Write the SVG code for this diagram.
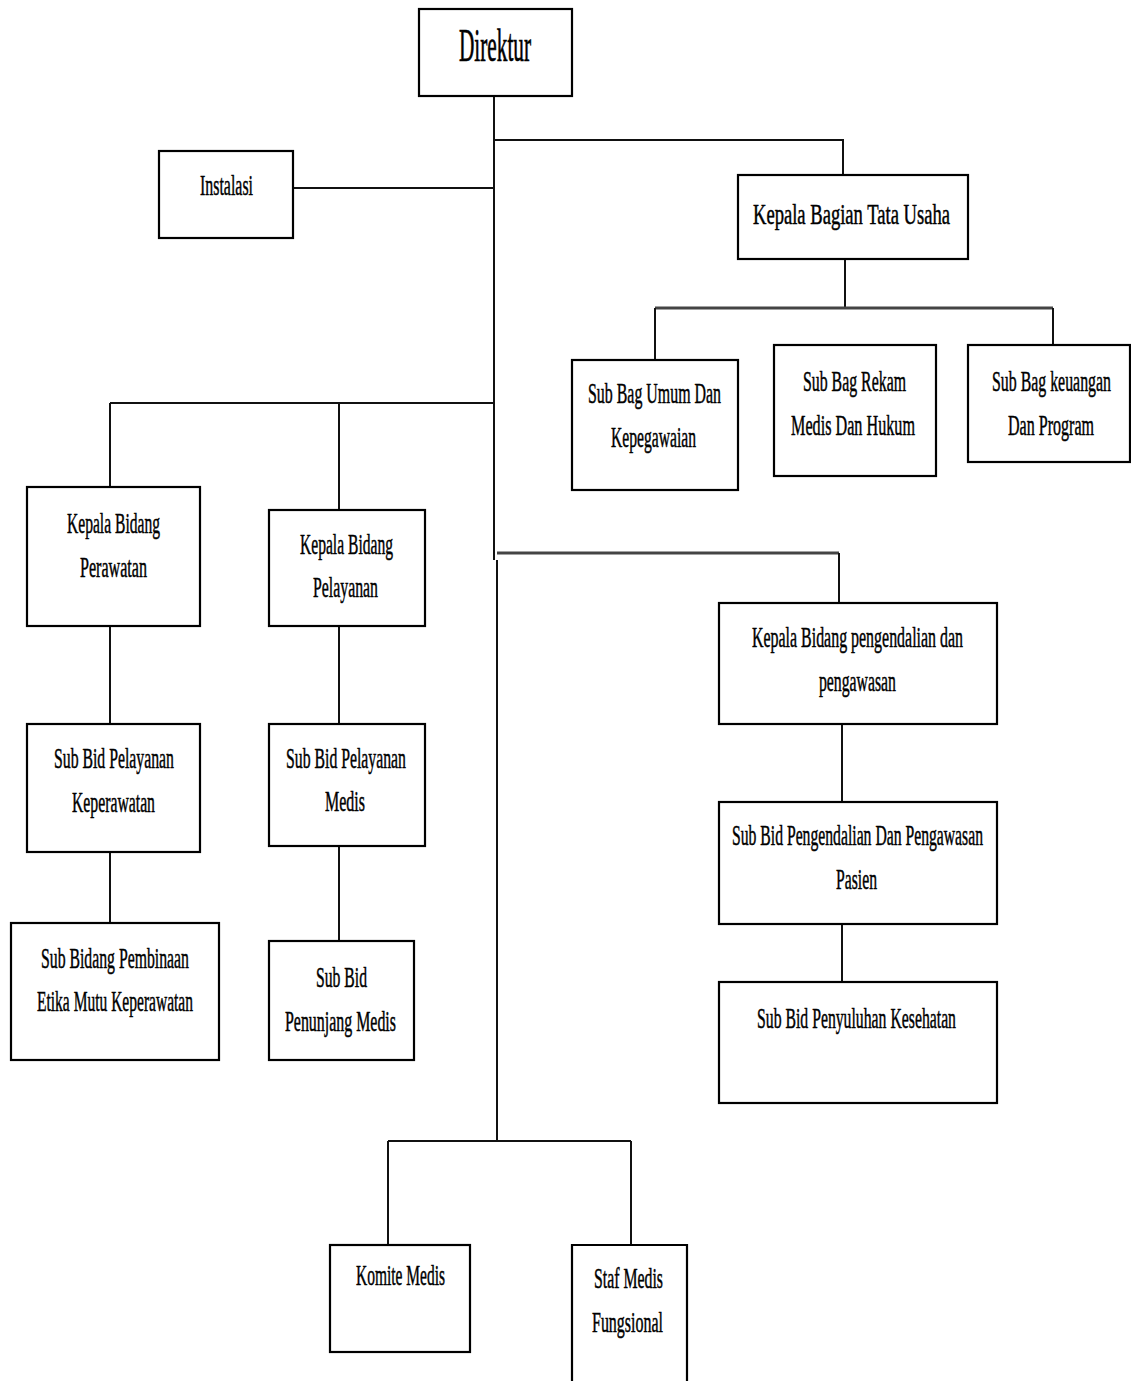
<svg xmlns="http://www.w3.org/2000/svg" width="1131" height="1381" viewBox="0 0 1131 1381">
<style>
.box{fill:#fff;stroke:#000;stroke-width:2.2}
.ln{fill:none;stroke:#111;stroke-width:2}
.gl{fill:none;stroke:#444;stroke-width:3}
text{font-family:"Liberation Serif","Times New Roman",serif;font-size:30px;fill:#000;stroke:#000;stroke-width:0.5}
.big{font-size:46px;stroke-width:0.7}
</style>
<rect width="1131" height="1381" fill="#fff"/>
<g id="connectors">
<path class="ln" d="M494 96V560"/>
<path class="ln" d="M497 560V1141"/>
<path class="ln" d="M494 140H843V175"/>
<path class="ln" d="M293 188H494"/>
<path class="ln" d="M845 259V308"/>
<path class="gl" d="M655 308H1053"/>
<path class="ln" d="M655 308V360M1053 308V345"/>
<path class="ln" d="M110 403H494M110 403V487M339 403V510"/>
<path class="gl" d="M497 553H839"/>
<path class="ln" d="M839 553V603"/>
<path class="ln" d="M110 626V724M110 852V923"/>
<path class="ln" d="M339 626V724M339 846V941"/>
<path class="ln" d="M842 724V802M842 924V982"/>
<path class="ln" d="M388 1141H631M388 1141V1245M631 1141V1245"/>
</g>
<g id="direktur"><rect class="box" x="419" y="9" width="153" height="87"/><text class="big" transform="scale(0.5 1)" x="918" y="61" textLength="144" lengthAdjust="spacingAndGlyphs">Direktur</text></g>
<g id="instalasi"><rect class="box" x="159" y="151" width="134" height="87"/><text transform="scale(0.5 1)" x="400" y="195" textLength="106" lengthAdjust="spacingAndGlyphs">Instalasi</text></g>
<g id="kabag-tu"><rect class="box" x="738" y="175" width="230" height="84"/><text transform="scale(0.5 1)" x="1506" y="224" textLength="394" lengthAdjust="spacingAndGlyphs">Kepala Bagian Tata Usaha</text></g>
<g id="subbag-umum"><rect class="box" x="572" y="360" width="166" height="130"/><text transform="scale(0.5 1)" x="1176" y="403" textLength="266" lengthAdjust="spacingAndGlyphs">Sub Bag Umum Dan</text><text transform="scale(0.5 1)" x="1222" y="447" textLength="170" lengthAdjust="spacingAndGlyphs">Kepegawaian</text></g>
<g id="subbag-rekam"><rect class="box" x="774" y="345" width="162" height="131"/><text transform="scale(0.5 1)" x="1606" y="391" textLength="206" lengthAdjust="spacingAndGlyphs">Sub Bag Rekam</text><text transform="scale(0.5 1)" x="1582" y="435" textLength="248" lengthAdjust="spacingAndGlyphs">Medis Dan Hukum</text></g>
<g id="subbag-keuangan"><rect class="box" x="968" y="345" width="162" height="117"/><text transform="scale(0.5 1)" x="1984" y="391" textLength="238" lengthAdjust="spacingAndGlyphs">Sub Bag keuangan</text><text transform="scale(0.5 1)" x="2016" y="435" textLength="172" lengthAdjust="spacingAndGlyphs">Dan Program</text></g>
<g id="kabid-perawatan"><rect class="box" x="27" y="487" width="173" height="139"/><text transform="scale(0.5 1)" x="134" y="533" textLength="186" lengthAdjust="spacingAndGlyphs">Kepala Bidang</text><text transform="scale(0.5 1)" x="160" y="577" textLength="134" lengthAdjust="spacingAndGlyphs">Perawatan</text></g>
<g id="kabid-pelayanan"><rect class="box" x="269" y="510" width="156" height="116"/><text transform="scale(0.5 1)" x="600" y="554" textLength="186" lengthAdjust="spacingAndGlyphs">Kepala Bidang</text><text transform="scale(0.5 1)" x="626" y="597" textLength="130" lengthAdjust="spacingAndGlyphs">Pelayanan</text></g>
<g id="subbid-pel-kep"><rect class="box" x="27" y="724" width="173" height="128"/><text transform="scale(0.5 1)" x="108" y="768" textLength="240" lengthAdjust="spacingAndGlyphs">Sub Bid Pelayanan</text><text transform="scale(0.5 1)" x="144" y="812" textLength="166" lengthAdjust="spacingAndGlyphs">Keperawatan</text></g>
<g id="subbid-pembinaan"><rect class="box" x="11" y="923" width="208" height="137"/><text transform="scale(0.5 1)" x="82" y="968" textLength="296" lengthAdjust="spacingAndGlyphs">Sub Bidang Pembinaan</text><text transform="scale(0.5 1)" x="74" y="1011" textLength="312" lengthAdjust="spacingAndGlyphs">Etika Mutu Keperawatan</text></g>
<g id="subbid-pel-medis"><rect class="box" x="269" y="724" width="156" height="122"/><text transform="scale(0.5 1)" x="572" y="768" textLength="240" lengthAdjust="spacingAndGlyphs">Sub Bid Pelayanan</text><text transform="scale(0.5 1)" x="650" y="811" textLength="80" lengthAdjust="spacingAndGlyphs">Medis</text></g>
<g id="subbid-penunjang"><rect class="box" x="269" y="941" width="145" height="119"/><text transform="scale(0.5 1)" x="632" y="987" textLength="102" lengthAdjust="spacingAndGlyphs">Sub Bid</text><text transform="scale(0.5 1)" x="570" y="1031" textLength="222" lengthAdjust="spacingAndGlyphs">Penunjang Medis</text></g>
<g id="kabid-pengendalian"><rect class="box" x="719" y="603" width="278" height="121"/><text transform="scale(0.5 1)" x="1504" y="647" textLength="422" lengthAdjust="spacingAndGlyphs">Kepala Bidang  pengendalian dan</text><text transform="scale(0.5 1)" x="1638" y="691" textLength="154" lengthAdjust="spacingAndGlyphs">pengawasan</text></g>
<g id="subbid-pengendalian"><rect class="box" x="719" y="802" width="278" height="122"/><text transform="scale(0.5 1)" x="1464" y="845" textLength="502" lengthAdjust="spacingAndGlyphs">Sub Bid Pengendalian Dan Pengawasan</text><text transform="scale(0.5 1)" x="1672" y="889" textLength="82" lengthAdjust="spacingAndGlyphs">Pasien</text></g>
<g id="subbid-penyuluhan"><rect class="box" x="719" y="982" width="278" height="121"/><text transform="scale(0.5 1)" x="1514" y="1028" textLength="398" lengthAdjust="spacingAndGlyphs">Sub Bid Penyuluhan Kesehatan</text></g>
<g id="komite-medis"><rect class="box" x="330" y="1245" width="140" height="107"/><text transform="scale(0.5 1)" x="712" y="1285" textLength="178" lengthAdjust="spacingAndGlyphs">Komite Medis</text></g>
<g id="staf-medis"><path class="box" d="M572 1390V1245H687V1390"/><text transform="scale(0.5 1)" x="1188" y="1288" textLength="138" lengthAdjust="spacingAndGlyphs">Staf Medis</text><text transform="scale(0.5 1)" x="1184" y="1332" textLength="142" lengthAdjust="spacingAndGlyphs">Fungsional</text></g>
</svg>
